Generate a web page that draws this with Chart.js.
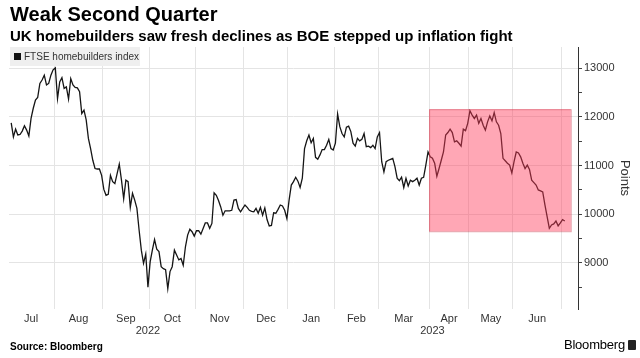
<!DOCTYPE html>
<html>
<head>
<meta charset="utf-8">
<script src="https://cdn.jsdelivr.net/npm/chart.js@4/dist/chart.umd.min.js"></script>
<style>
    body { margin: 0; background: #fff; font-family: "Liberation Sans", Arial, sans-serif; }
    #wrap { position: relative; width: 640px; height: 358px; overflow: hidden; }
    #chart { position: absolute; left: 0; top: 0; }
    .title { position: absolute; left: 10px; top: 3px; font-size: 20px; font-weight: bold; color: #000; white-space: nowrap; }
    .subtitle { position: absolute; left: 10px; top: 27px; font-size: 15px; font-weight: bold; color: #000; white-space: nowrap; }
    .legend { position: absolute; left: 10px; top: 47px; width: 130px; height: 19px; background: #efefef; font-size: 10px; color: #333; line-height: 19px; white-space: nowrap; }
    .legend i { display: inline-block; width: 7px; height: 7px; background: #111; margin: 0 3px 0 4px; }
    .source { position: absolute; left: 10px; top: 341px; font-size: 10px; font-weight: bold; color: #000; }
    .brand { position: absolute; right: 15px; top: 337px; font-size: 13px; color: #000; letter-spacing: -0.2px; }
    .brand-icon { position: absolute; right: 4px; top: 340px; width: 8px; height: 10px; background: #222; border-radius: 1px; }
</style>
</head>
<body>
<div id="wrap">
    <canvas id="chart" width="640" height="358"></canvas>
    <div class="title">Weak Second Quarter</div>
    <div class="subtitle">UK homebuilders saw fresh declines as BOE stepped up inflation fight</div>
    <div class="legend" id="legend"></div>
    <div class="source">Source: Bloomberg</div>
    <div class="brand">Bloomberg</div>
    <div class="brand-icon"></div>
</div>
<script>
// trading-day index (0 = 1 Jul 2022) and index close
const days = [
    1, 2, 3, 4, 5, 6, 7, 8, 9, 10, 11, 12, 13, 14, 15, 16, 17, 18, 19, 20,
    21, 22, 23, 24, 25, 26, 27, 28, 29, 30, 31, 32, 33, 34, 35, 36, 37, 38, 39, 40,
    41, 42, 43, 44, 45, 46, 47, 48, 50, 51, 52, 53, 54, 55, 56, 57, 58, 59, 60, 61,
    62, 63, 64, 65, 66, 67, 68, 69, 70, 71, 72, 73, 74, 75, 76, 77, 78, 79, 80, 81,
    82, 83, 84, 85, 86, 87, 89, 90, 91, 92, 93, 94, 95, 96, 97, 98, 100, 101, 102, 103,
    104, 105, 106, 107, 108, 109, 110, 111, 112, 113, 114, 115, 116, 117, 118, 119, 120, 121, 122, 123,
    124, 125, 126, 127, 128, 129, 130, 131, 132, 133, 134, 135, 136, 137, 138, 139, 140, 141, 142, 143,
    144, 145, 146, 147, 148, 149, 150, 151, 152, 153, 154, 155, 156, 157, 158, 159, 160, 161, 162, 163,
    164, 165, 166, 167, 168, 169, 170, 171, 172, 173, 174, 175, 176, 177, 178, 179, 180, 181, 182, 183,
    184, 185, 186, 187, 188, 189, 190, 191, 192, 193, 194, 195, 196, 197, 198, 199, 200, 201, 202, 203,
    204, 205, 206, 207, 208, 209, 210, 211, 212, 213, 214, 215, 216, 217, 218, 219, 220, 221, 222, 223,
    224, 225, 226, 227, 228, 229, 230, 231, 232, 233, 234, 235, 236, 237, 238, 239, 240, 241, 242, 243,
    244, 245, 246, 247, 248, 249, 250, 251, 252
];
const closes = [
    11880, 11590, 11750, 11630, 11640, 11710, 11820, 11730, 11610, 11970, 12180, 12350, 12400, 12690, 12760, 12860, 12660, 12690, 12860, 12970,
    13010, 12380, 12720, 12810, 12590, 12620, 12370, 12790, 12660, 12610, 12600, 12520, 12070, 12140, 11940, 11560, 11350, 11110, 10940, 10930,
    10930, 10800, 10510, 10390, 10410, 10800, 10670, 10630, 11030, 10700, 10320, 10700, 10670, 10140, 10430, 10290, 10120, 9670, 9260, 8990,
    9180, 8500, 9020, 9260, 9480, 9280, 9230, 8920, 8880, 8860, 8470, 8820, 8920, 9260, 9160, 9060, 9090, 8950, 9330, 9570,
    9690, 9640, 9550, 9660, 9660, 9590, 9820, 9820, 9710, 9810, 10440, 10390, 10280, 10150, 9980, 10070, 10070, 10080, 10290, 10300,
    10120, 10050, 10120, 10190, 10140, 10080, 10060, 10050, 10120, 10020, 10140, 9980, 10130, 9890, 9760, 9770, 10030, 10020, 10100, 10190,
    10170, 10080, 9910, 10290, 10600, 10670, 10760, 10680, 10550, 10740, 11350, 11510, 11630, 11470, 11560, 11170, 11130, 11220, 11330, 11330,
    11420, 11540, 11350, 11320, 11460, 12060, 11800, 11660, 11590, 11790, 11810, 11700, 11460, 11400, 11560, 11510, 11540, 11660, 11390, 11400,
    11370, 11420, 11350, 11590, 11680, 11080, 10870, 11080, 11110, 11130, 11150, 10980, 10740, 10690, 10760, 10550, 10740, 10580, 10700, 10670,
    10700, 10740, 10600, 10740, 10760, 11010, 11280, 11180, 11150, 11050, 10780, 10940, 11110, 11280, 11630, 11680, 11750, 11680, 11490, 11510,
    11460, 11400, 11750, 11720, 11870, 12130, 12040, 11970, 12040, 11870, 11970, 11830, 11730, 11900, 12020, 11920, 12090, 11900, 11830, 11660,
    11150, 11100, 11050, 11010, 10850, 11080, 11280, 11260, 11180, 11050, 10940, 11010, 10920, 10700, 10650, 10600, 10500, 10480, 10460, 10190,
    9950, 9710, 9780, 9800, 9860, 9760, 9820, 9890, 9860
];
const seriesLabel = 'FTSE homebuilders index';

// month boundaries (trading-day index) and label positions
const monthEdges = [20.5, 42.5, 63.5, 84.5, 106.5, 126.5, 147.5, 167.5, 190.5, 208.5, 228.5, 250.5];
const monthMids = [10, 31.5, 53, 74, 95.5, 116.5, 137, 157.5, 179, 199.5, 218.5, 239.5];
const monthNames = ['Jul', 'Aug', 'Sep', 'Oct', 'Nov', 'Dec', 'Jan', 'Feb', 'Mar', 'Apr', 'May', 'Jun'];
const yearMids = [63, 192];
const yearNames = ['2022', '2023'];
const yTicks = [8500, 9000, 9500, 10000, 10500, 11000, 11500, 12000, 12500, 13000];

// second-quarter highlight
const boxDays = [190.5, 254.7];
const boxPoints = [9650, 12160];

document.getElementById('legend').innerHTML = '<i></i>' + seriesLabel;

const boxPlugin = {
    id: 'q2box',
    afterDatasetsDraw(chart) {
        const { ctx, scales: { x, y } } = chart;
        const x0 = x.getPixelForValue(boxDays[0]);
        const x1 = x.getPixelForValue(boxDays[1]);
        const y0 = y.getPixelForValue(boxPoints[1]);
        const y1 = y.getPixelForValue(boxPoints[0]);
        ctx.save();
        ctx.fillStyle = 'rgba(255, 60, 90, 0.45)';
        ctx.fillRect(x0, y0, x1 - x0, y1 - y0);
        ctx.strokeStyle = 'rgba(200, 50, 70, 0.45)';
        ctx.lineWidth = 1;
        ctx.strokeRect(x0 + 0.5, y0 + 0.5, x1 - x0, y1 - y0);
        ctx.restore();
    }
};

const font = 'Liberation Sans';
const xRange = { min: 0, max: 258 };

new Chart(document.getElementById('chart'), {
    type: 'line',
    data: {
        datasets: [{
            label: seriesLabel,
            data: days.map((d, i) => ({ x: d, y: closes[i] })),
            borderColor: '#151515',
            borderWidth: 1.3,
            pointRadius: 0,
            tension: 0
        }]
    },
    options: {
        responsive: false,
        devicePixelRatio: 1,
        animation: false,
        layout: { padding: { left: 9, top: 47, right: 0, bottom: 23 } },
        plugins: { legend: { display: false }, tooltip: { enabled: false } },
        scales: {
            x: {
                type: 'linear', position: 'bottom', weight: 0, ...xRange,
                afterBuildTicks: s => { s.ticks = monthEdges.map(v => ({ value: v })); },
                afterFit: s => { s.height = 0; },
                ticks: { display: false },
                grid: { color: '#e4e4e4', drawTicks: false },
                border: { display: false }
            },
            xm: {
                type: 'linear', position: 'bottom', weight: 1, ...xRange,
                afterBuildTicks: s => { s.ticks = monthMids.map(v => ({ value: v })); },
                afterFit: s => { s.height = 15; },
                ticks: {
                    callback: (v, i) => monthNames[i],
                    autoSkip: false, maxRotation: 0, padding: 3,
                    color: '#333', font: { family: font, size: 11 }
                },
                grid: { display: false, drawTicks: false },
                border: { display: false }
            },
            xy: {
                type: 'linear', position: 'bottom', weight: 2, ...xRange,
                afterBuildTicks: s => { s.ticks = yearMids.map(v => ({ value: v })); },
                afterFit: s => { s.height = 11; },
                ticks: {
                    callback: (v, i) => yearNames[i],
                    autoSkip: false, maxRotation: 0, padding: 0,
                    color: '#333', font: { family: font, size: 11 }
                },
                grid: { display: false, drawTicks: false },
                border: { display: false }
            },
            y: {
                type: 'linear', position: 'right', min: 8050, max: 13440,
                afterBuildTicks: s => { s.ticks = yTicks.map(v => ({ value: v })); },
                afterFit: s => { s.width = 62; },
                ticks: {
                    callback: v => (v % 1000 === 0 ? String(v) : ''),
                    autoSkip: false, padding: 2,
                    color: '#333', font: { family: font, size: 11 }
                },
                grid: {
                    color: c => (c.tick && c.tick.value % 1000 === 0 ? '#e4e4e4' : 'rgba(0,0,0,0)'),
                    tickColor: '#444', tickLength: 4
                },
                border: { display: true, color: '#333', width: 1 },
                title: {
                    display: true, text: 'Points', color: '#333',
                    font: { family: font, size: 13 }, padding: { top: 8, bottom: 0 }
                }
            }
        }
    },
    plugins: [boxPlugin]
});
</script>
</body>
</html>
